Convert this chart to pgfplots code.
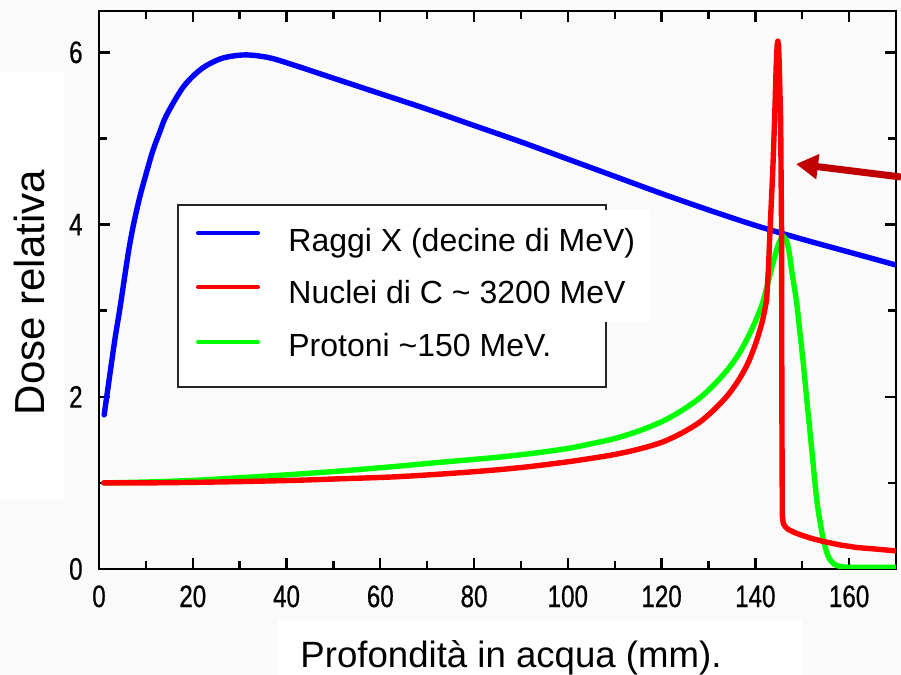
\documentclass[border=0pt]{standalone}
\usepackage{fontspec}
\setmainfont{Liberation Sans}
\newfontfamily\tickfont{Liberation Sans}[FakeStretch=0.78, FakeBold=0.6]
\usepackage{pgfplots}
\pgfplotsset{compat=1.18}
\usetikzlibrary{arrows.meta}
\definecolor{bg}{RGB}{250,250,250}
\definecolor{arrowred}{RGB}{192,0,0}
\definecolor{lime}{RGB}{0,255,0}
\begin{document}
\begin{tikzpicture}
\path[use as bounding box, fill=bg] (-49.5pt,-53pt) rectangle (401pt,284.5pt);
% white boxes behind labels
\fill[white] (-49.5pt,34.5pt) rectangle (-17.5pt,248.5pt);
\fill[white] (89.5pt,-25.5pt) rectangle (351.5pt,-53pt);
\begin{axis}[
  at={(0pt,0pt)}, anchor=south west,
  scale only axis, width=398.5pt, height=279pt,
  xmin=0, xmax=170, ymin=0, ymax=6.48,
  axis line style={line width=1.2pt, black},
  xtick={0,20,...,160}, minor xtick={10,30,...,170},
  ytick={0,2,4,6}, minor ytick={1,3,5},
  tick align=inside, tick pos=both,
  major tick length=5.5pt, minor tick length=4pt,
  every tick/.style={line width=1.2pt, black},
  /pgf/number format/assume math mode=true,
  tick label style={font=\tickfont\fontsize{15.5}{16}\selectfont},
  xticklabel style={inner sep=0pt, yshift=-8pt},
  yticklabel style={inner sep=0pt, xshift=-8pt},
  clip=true,
]
\addplot[blue, line width=2.7pt, smooth, line cap=round] coordinates {
(1.1,1.79)(2.35,2.27)(3.4,2.67)(4.5,3.04)(6.25,3.67)(7.4,4.01)(8.7,4.32)(10.0,4.58)(11.5,4.86)(13,5.08)(14.4,5.27)(18.0,5.60)(21.9,5.81)(26.2,5.93)(31.1,5.97)(36.1,5.94)(41.1,5.86)(50,5.70)(60,5.52)(70,5.34)(80,5.15)(90,4.96)(100,4.76)(110,4.56)(120,4.36)(130,4.17)(140,3.99)(150,3.83)(160,3.68)(170,3.53)
};
% protons: slow rise (smooth) and peak
\addplot[lime, line width=2.7pt, smooth, line cap=round] coordinates {
(1,1.0)(10,1.01)(20.5,1.03)(30,1.06)(41.8,1.10)(52,1.14)(63,1.19)(73,1.24)(84.5,1.295)(92,1.34)(100,1.40)(105,1.455)(110,1.515)(115,1.60)(120,1.71)(124,1.83)(128,1.98)(131,2.13)(134,2.31)(136.5,2.50)(138.5,2.70)(140.2,2.90)(141.5,3.08)
};
\addplot[lime, line width=2.7pt, smooth, tension=0.4, line cap=round] coordinates {
(141.5,3.08)(142.5,3.28)(143.5,3.5)(144.5,3.7)(145.3,3.82)(146.0,3.86)(146.7,3.80)(147.3,3.65)(147.8,3.45)(148.8,3.10)(149.5,2.75)(150.3,2.35)(151.0,1.95)(151.7,1.57)(152.4,1.18)(153.1,0.80)(153.8,0.55)(154.5,0.34)(155.2,0.2)(155.9,0.11)(157,0.05)(158.1,0.03)(160,0.02)(170,0.02)
};
% carbon: slow rise (smooth), sharp peak
\addplot[red, line width=2.7pt, smooth, line cap=round] coordinates {
(1,1.0)(10,1.0)(20,1.006)(30,1.015)(42,1.03)(50,1.045)(63,1.07)(75,1.11)(84.5,1.15)(92,1.19)(100,1.245)(105,1.285)(110,1.33)(115,1.39)(120,1.47)(124,1.57)(128,1.70)(131,1.84)(134,2.01)(136.5,2.20)(138.5,2.40)(140.2,2.64)(141.5,2.88)(142.4,3.12)
};
\addplot[red, line width=2.7pt, line join=round, line cap=round] coordinates {
(142.4,3.12)(142.8,3.5)(143.1,3.9)(143.7,4.6)(144.1,5.21)(144.45,5.85)(144.65,6.08)(144.8,6.13)(144.95,6.08)(145.1,5.85)(145.4,5.21)(145.5,4.5)(145.6,3.9)(145.65,2.0)(145.75,0.62)(145.95,0.53)(146.4,0.49)(147,0.46)(148.5,0.42)(150,0.39)(152,0.355)(154.5,0.32)(158,0.28)(161.6,0.25)(166,0.23)(170,0.21)
};
\end{axis}
% legend
\draw[line width=1pt, black!85, fill=white] (39.5pt,182pt) rectangle (253.5pt,91pt);
\fill[white] (84pt,179.5pt) rectangle (275.5pt,123.5pt);
\fill[white] (84pt,123.5pt) rectangle (252pt,98pt);
\draw[blue, line width=2pt, line cap=round] (49.5pt,168pt) -- (79.5pt,168pt);
\draw[red, line width=2pt, line cap=round] (49.5pt,141pt) -- (79.5pt,141pt);
\draw[lime, line width=2pt, line cap=round] (49.5pt,113.5pt) -- (79.5pt,113.5pt);
\node[anchor=base west, inner sep=0pt, font=\fontsize{16}{16}\selectfont] at (94.5pt,158.5pt) {Raggi X (decine di MeV)};
\node[anchor=base west, inner sep=0pt, font=\fontsize{16}{16}\selectfont] at (94.5pt,132.5pt) {Nuclei di C \textasciitilde{} 3200 MeV};
\node[anchor=base west, inner sep=0pt, font=\fontsize{16}{16}\selectfont] at (94.5pt,106pt) {Protoni \textasciitilde{}150 MeV.};
% axis labels
\node[rotate=90, anchor=base, inner sep=0pt, font=\fontsize{21}{21}\selectfont] at (-27pt,138.25pt) {Dose relativa};
\node[anchor=base, inner sep=0pt, font=\fontsize{18.3}{18.3}\selectfont] at (206pt,-49.5pt) {Profondità in acqua (mm).};
% arrow
\draw[arrowred, line width=3.5pt, -{Triangle[length=11pt,width=12pt]}] (401pt,196pt) -- (348.5pt,202.5pt);
\end{tikzpicture}
\end{document}
